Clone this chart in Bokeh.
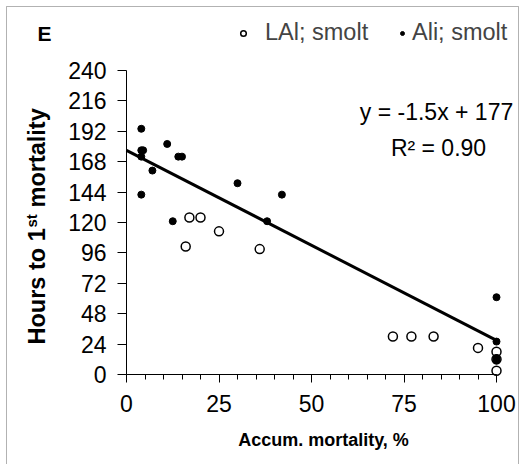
import math
from bokeh.plotting import figure
from bokeh.models import Range1d, FixedTicker, Label, Legend, LegendItem, BoxAnnotation
from bokeh.embed import file_html
from bokeh.resources import INLINE

# ---- data ----
lal_x = [16, 17, 20, 25, 36, 72, 77, 83, 95, 100, 100, 100]
lal_y = [101, 124, 124, 113, 99, 30, 30, 30, 21, 18, 12, 3]

ali_x = [4, 4, 4.5, 4, 4, 7, 11, 14, 15, 12.5, 30, 38, 42, 100, 100, 100, 100, 100]
ali_y = [194, 177, 177, 172, 142, 161, 182, 172, 172, 121, 151, 121, 142, 61, 26, 13, 12, 11]

trend_slope = -1.5
trend_intercept = 177
trend_r2 = 0.90

x_ticks = [0, 25, 50, 75, 100]
x_minor = [5, 10, 15, 20, 30, 35, 40, 45, 55, 60, 65, 70, 80, 85, 90, 95]
y_ticks = [0, 24, 48, 72, 96, 120, 144, 168, 192, 216, 240]

FONT = "Liberation Sans"
W, H = 520, 464

# pixel geometry of the plot area (x: 0..100 -> 126..496 px, y: 0..240 -> 374..70 px)
PX0, PX1 = 126, 496
PY0, PY1 = 374, 70
kx = (PX1 - PX0) / 100.0
ky = (PY0 - PY1) / 240.0
x_range = Range1d(-PX0 / kx, (W - PX0) / kx)
y_range = Range1d(-(H - PY0) / ky, PY0 / ky)

p = figure(width=W, height=H, output_backend="svg", toolbar_location=None,
           x_range=x_range, y_range=y_range,
           min_border=0, min_border_left=0, min_border_right=0,
           min_border_top=0, min_border_bottom=0)
p.outline_line_color = None
p.grid.visible = False
p.background_fill_color = "white"
p.border_fill_color = "white"

# axes (drawn at x=0 / y=0 of the data)
xa = p.xaxis[0]
xa.fixed_location = 0
xa.bounds = (0, 100)
xa.ticker = FixedTicker(ticks=x_ticks, minor_ticks=x_minor)
xa.major_tick_out = 8
xa.major_tick_in = 0
xa.minor_tick_out = 5
xa.minor_tick_in = 0
xa.major_label_standoff = 12
xa.major_label_text_font = FONT
xa.major_label_text_font_size = "23px"
xa.major_label_text_color = "black"
xa.axis_line_color = "black"
xa.major_tick_line_color = "black"
xa.minor_tick_line_color = "black"

ya = p.yaxis[0]
ya.fixed_location = 0
ya.bounds = (0, 240)
ya.ticker = FixedTicker(ticks=y_ticks, minor_ticks=[])
ya.major_tick_out = 9
ya.major_tick_in = 0
ya.minor_tick_out = 0
ya.major_label_standoff = 11
ya.major_label_text_font = FONT
ya.major_label_text_font_size = "23px"
ya.major_label_text_color = "black"
ya.axis_line_color = "black"
ya.major_tick_line_color = "black"

# trend line
tx = [0, max(lal_x + ali_x)]
ty = [trend_intercept + trend_slope * v for v in tx]
p.line(tx, ty, line_color="black", line_width=3)

r_lal = p.scatter(lal_x, lal_y, marker="circle", size=9, fill_color="white",
                  line_color="black", line_width=1.5)
r_ali = p.scatter(ali_x, ali_y, marker="circle", size=7, fill_color="black",
                  line_color="black")

def sx(cx):
    return cx

def sy(cy):
    return H - cy

# legends
leg1 = Legend(items=[LegendItem(label="LAl; smolt", renderers=[r_lal])],
              location=(sx(236), sy(46)), glyph_width=14, glyph_height=26,
              label_height=26, label_standoff=15,
              padding=0, margin=0, border_line_color=None, background_fill_alpha=0,
              label_text_font=FONT, label_text_font_size="23.5px")
leg2 = Legend(items=[LegendItem(label="Ali; smolt", renderers=[r_ali])],
              location=(sx(397), sy(46)), glyph_width=10, glyph_height=26,
              label_height=26, label_standoff=5,
              padding=0, margin=0, border_line_color=None, background_fill_alpha=0,
              label_text_font=FONT, label_text_font_size="23.5px")
p.add_layout(leg1)
p.add_layout(leg2)

def lab(text, cx, cy, size="22px", style="normal", align="left", baseline="alphabetic", angle=0):
    p.add_layout(Label(x=sx(cx), y=sy(cy), x_units="screen", y_units="screen", text=text,
                       text_font=FONT, text_font_size=size, text_font_style=style,
                       text_align=align, text_baseline=baseline, angle=angle,
                       text_color="black"))

lab("E", 37, 33, size="21px", style="bold")
lab("y = -1.5x + 177", 436, 111, size="23px", align="center")
lab("R² = %.2f" % trend_r2, 438, 147, size="23px", align="center")

# axis titles
lab("Accum. mortality, %", 323, 439, size="18px", style="bold", align="center")
lab("Hours to 1", 36, 344, size="23.5px", style="bold", angle=math.pi / 2)
lab("st", 31, 227, size="15px", style="bold", angle=math.pi / 2)
lab("mortality", 36, 207, size="23.5px", style="bold", angle=math.pi / 2)

# outer frame
p.add_layout(BoxAnnotation(left=sx(6), right=sx(518), top=sy(6), bottom=sy(490),
                           left_units="screen", right_units="screen",
                           top_units="screen", bottom_units="screen",
                           fill_alpha=0, line_color="black", line_width=1))

open("out.html", "w").write(file_html(p, INLINE))
